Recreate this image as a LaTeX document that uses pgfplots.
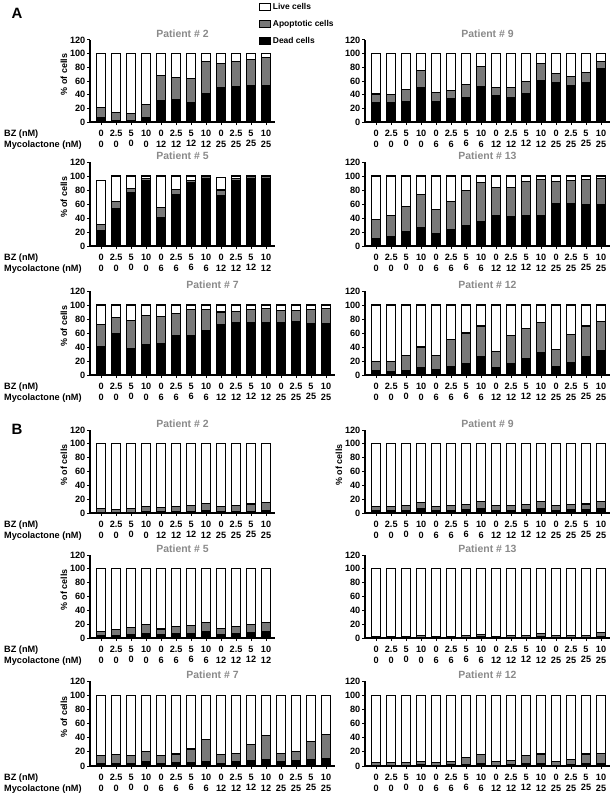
\documentclass[border=0pt]{standalone}
\usepackage{pgfplots}
\usepackage{pgfplotstable}
\pgfplotsset{compat=1.18}
\usepackage{fontspec}
\setmainfont{Liberation Sans}
\definecolor{titlegray}{HTML}{8A8A8A}
\definecolor{apogray}{HTML}{787878}
\newcommand{\lab}{\fontsize{9.2}{11}\selectfont\bfseries}
\newcommand{\leg}{\fontsize{8.5}{10}\selectfont\bfseries}
\newcommand{\ttl}{\fontsize{10.5}{12}\selectfont\bfseries}
\newcommand{\ylf}{\fontsize{9}{11}\selectfont\bfseries}

% columns: x, dead, apoptotic, live (segments, %)
\pgfplotstableread{
x d a l
0 6 15 79
1 2 12 86
2 2 11 87
3 6 19 75
4 32 36 32
5 33 32 35
6 29 35 36
7 42 47 11
8 50 36 14
9 52 36 12
10 53 38 9
11 54 40 6
}\tAtwo
\pgfplotstableread{
x d a l
0 28 13 59
1 28 12 60
2 30 17 53
3 51 25 24
4 30 13 57
5 34 12 54
6 36 19 45
7 52 29 19
8 38 13 49
9 36 14 50
10 42 17 41
11 61 24 15
12 58 13 29
13 54 12 34
14 58 15 27
15 78 11 11
}\tAnine
\pgfplotstableread{
x d a l
0 22 9 62
1 54 9 37
2 76 6 18
3 93 3 4
4 40 15 45
5 74 7 19
6 90 3 7
7 97 2 1
8 72 8 18
9 94 3 3
10 96 3 1
11 96 3 1
}\tAfive
\pgfplotstableread{
x d a l
0 10 28 62
1 14 30 56
2 20 37 43
3 26 47 27
4 18 34 48
5 23 41 36
6 29 50 21
7 35 56 9
8 44 40 16
9 42 41 17
10 44 48 8
11 44 51 5
12 61 31 8
13 61 33 6
14 59 36 5
15 59 37 4
}\tAthirteen
\pgfplotstableread{
x d a l
0 41 31 28
1 59 23 18
2 38 40 22
3 44 41 15
4 45 38 17
5 57 31 12
6 56 37 7
7 64 30 6
8 72 18 10
9 75 16 9
10 75 19 6
11 75 20 5
12 75 17 8
13 76 16 8
14 74 20 6
15 73 22 5
}\tAseven
\pgfplotstableread{
x d a l
0 6 13 81
1 5 14 81
2 6 22 72
3 10 30 60
4 8 20 72
5 12 39 49
6 16 44 40
7 26 44 30
8 10 23 67
9 17 39 44
10 24 42 34
11 32 43 25
12 12 24 64
13 18 40 42
14 27 43 30
15 35 42 23
}\tAtwelve
\pgfplotstableread{
x d a l
0 1 5 94
1 1 4 95
2 1 6 93
3 2 8 90
4 2 6 92
5 2 8 90
6 2 9 89
7 3 11 86
8 2 8 90
9 2 9 89
10 2 11 87
11 3 12 85
}\tBtwo
\pgfplotstableread{
x d a l
0 4 6 90
1 4 5 91
2 4 7 89
3 6 9 85
4 4 6 90
5 4 7 89
6 5 7 88
7 6 10 84
8 4 7 89
9 4 7 89
10 5 7 88
11 7 10 83
12 4 7 89
13 5 7 88
14 5 8 87
15 7 10 83
}\tBnine
\pgfplotstableread{
x d a l
0 3 7 90
1 4 8 88
2 5 10 85
3 7 12 81
4 5 8 87
5 6 11 83
6 7 11 82
7 10 12 78
8 5 9 86
9 7 10 83
10 8 11 81
11 10 13 77
}\tBfive
\pgfplotstableread{
x d a l
0 0.5 1.5 98
1 0.5 1 98.5
2 0.5 1.5 98
3 1 2 97
4 0.5 1.5 98
5 1 1.5 97.5
6 1 2 97
7 1.5 3.5 95
8 0.5 1.5 98
9 1 2 97
10 1 2 97
11 2 4 94
12 1 2 97
13 1 2 97
14 1 3 96
15 2 6 92
}\tBthirteen
\pgfplotstableread{
x d a l
0 3 12 85
1 3 13 84
2 4 11 85
3 6 15 79
4 3 12 85
5 5 12 83
6 5 19 76
7 6 31 63
8 4 12 84
9 6 12 82
10 8 23 69
11 9 34 57
12 6 12 82
13 8 13 79
14 9 26 65
15 10 34 56
}\tBseven
\pgfplotstableread{
x d a l
0 1 4 95
1 1 4 95
2 1 4 95
3 2 5 93
4 1 4 95
5 2 4 94
6 2 10 88
7 3 13 84
8 1 5 94
9 2 6 92
10 3 12 85
11 3 14 83
12 1 5 94
13 2 7 91
14 3 14 83
15 3 15 82
}\tBtwelve

\pgfplotsset{
  panel/.style={
    scale only axis, anchor=south west,
    ymin=0, ymax=120, ytick={0,20,...,120}, xmin=-0.75,
    axis x line*=bottom, axis y line*=left,
    axis line style={line width=1.3bp,-},
    every tick/.style={black, line width=1bp},
    tick align=outside, major tick length=3bp,
    ybar stacked, bar width=9bp, no markers,
    ticklabel style={font=\lab},
    xticklabel style={align=center, inner sep=1bp, yshift=-3.5bp},
    yticklabel style={inner sep=1.5bp},
    /pgf/number format/assume math mode=true,
    title style={at={(0.5,1)}, anchor=center, font=\ttl, text=titlegray},
    clip=false,
  },
  p12/.style={xmax=11.6, width=185bp, xtick={0,...,11}},
  p16/.style={xmax=15.6, width=245bp, xtick={0,...,15},
    xticklabels={{0\\0},{2.5\\0},{5\\0},{10\\0},{0\\6},{2.5\\6},{5\\6},{10\\6},{0\\12},{2.5\\12},{5\\12},{10\\12},{0\\25},{2.5\\25},{5\\25},{10\\25}}},
  la/.style={xticklabels={{0\\0},{2.5\\0},{5\\0},{10\\0},{0\\12},{2.5\\12},{5\\12},{10\\12},{0\\25},{2.5\\25},{5\\25},{10\\25}}},
  lb/.style={xticklabels={{0\\0},{2.5\\0},{5\\0},{10\\0},{0\\6},{2.5\\6},{5\\6},{10\\6},{0\\12},{2.5\\12},{5\\12},{10\\12}}},
  ylab/.style={ylabel={\% of cells}, ylabel style={font=\ylf, at={(ticklabel cs:0.58)}, inner sep=1bp}},
  dead/.style={draw=black, fill=black, line width=1.1bp},
  apo/.style={draw=black, fill=apogray, line width=1.1bp},
  live/.style={draw=black, fill=white, line width=1.1bp},
}
\newcommand{\bars}[1]{%
  \addplot+[dead] table[x=x,y=d]{#1};
  \addplot+[apo] table[x=x,y=a]{#1};
  \addplot+[live] table[x=x,y=l]{#1};
}

\begin{document}
\begin{tikzpicture}
\path[use as bounding box] (0,0) rectangle (615bp,-798bp);

% ---------- A ----------
\begin{axis}[panel, p12, la, ylab, at={(90bp,-122bp)}, height=82bp, title={Patient \# 2},
  legend style={at={(axis description cs:0.912,1.475)}, anchor=north west, draw=none, fill=none,
    font=\leg, row sep=5.5bp, inner sep=0pt, cells={anchor=west}},
  reverse legend,
  legend image code/.code={\draw[#1, line width=1bp] (0bp,-3bp) rectangle (11bp,3.5bp);}]
\bars{\tAtwo}
\legend{Dead cells, Apoptotic cells, Live cells}
\end{axis}
\begin{axis}[panel, p16, at={(365bp,-122bp)}, height=82bp, title={Patient \# 9}]
\bars{\tAnine}
\end{axis}

\begin{axis}[panel, p12, lb, ylab, at={(90bp,-246bp)}, height=84bp, title={Patient \# 5}]
\bars{\tAfive}
\end{axis}
\begin{axis}[panel, p16, at={(365bp,-246bp)}, height=84bp, title={Patient \# 13}]
\bars{\tAthirteen}
\end{axis}

\begin{axis}[panel, p16, ylab, at={(90bp,-375bp)}, height=84bp, title={Patient \# 7}]
\bars{\tAseven}
\end{axis}
\begin{axis}[panel, p16, at={(365bp,-375bp)}, height=84bp, title={Patient \# 12}]
\bars{\tAtwelve}
\end{axis}

% ---------- B ----------
\begin{axis}[panel, p12, la, ylab, at={(90bp,-513bp)}, height=83bp, title={Patient \# 2}]
\bars{\tBtwo}
\end{axis}
\begin{axis}[panel, p16, ylab, at={(365bp,-513bp)}, height=83bp, title={Patient \# 9}]
\bars{\tBnine}
\end{axis}

\begin{axis}[panel, p12, lb, ylab, at={(90bp,-638bp)}, height=83bp, title={Patient \# 5}]
\bars{\tBfive}
\end{axis}
\begin{axis}[panel, p16, at={(365bp,-638bp)}, height=83bp, title={Patient \# 13}]
\bars{\tBthirteen}
\end{axis}

\begin{axis}[panel, p16, ylab, at={(90bp,-766bp)}, height=85bp, title={Patient \# 7}]
\bars{\tBseven}
\end{axis}
\begin{axis}[panel, p16, at={(365bp,-766bp)}, height=85bp, title={Patient \# 12}]
\bars{\tBtwelve}
\end{axis}

% panel letters and row labels
\node[anchor=west, font=\fontsize{15}{17}\selectfont\bfseries] at (8bp,-13bp) {A};
\node[anchor=west, font=\fontsize{15}{17}\selectfont\bfseries] at (8bp,-429bp) {B};
\foreach \yy in {122,246,375,513,638,766} {
  \node[anchor=base west, font=\lab, inner sep=0pt] at (4bp,{-(\yy+14.5)*1bp}) {BZ (nM)};
  \node[anchor=base west, font=\lab, inner sep=0pt] at (4bp,{-(\yy+25.5)*1bp}) {Mycolactone (nM)};
}
\end{tikzpicture}
\end{document}
